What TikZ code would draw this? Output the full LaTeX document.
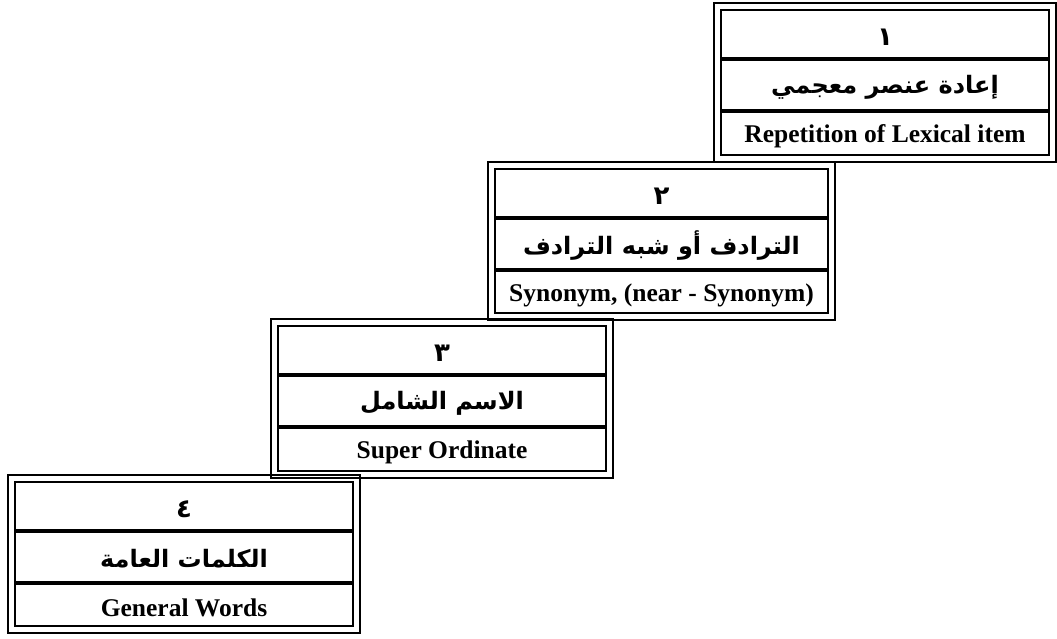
\documentclass[tikz,border=0pt]{standalone}
\usepackage{fontspec}
\setmainfont{Liberation Serif}
\newfontfamily\arabicfont[Script=Arabic]{DejaVu Sans}
\TeXXeTstate=1
\tikzset{
  boxframe/.style={draw=black, line width=1.3pt, inner sep=0pt, outer sep=0pt, anchor=north west},
  innerline/.style={draw=black, line width=1.3pt},
  sepline/.style={draw=black, line width=4pt},
  numtext/.style={font=\arabicfont\bfseries\fontsize{26}{30}\selectfont, inner sep=0pt},
  artext/.style={font=\arabicfont\bfseries\fontsize{24}{28}\selectfont, inner sep=0pt},
  entext/.style={font=\bfseries\fontsize{25.5}{28}\selectfont, inner sep=0pt}
}
% #1 name, #2 left, #3 top, #4 width, #5 height, #6 number, #7 arabic, #8 english
\newcommand\mkstepbox[8]{%
  \node[boxframe, minimum width=#4pt, minimum height=#5pt] (#1) at (#2,#3) {};
  \draw[innerline] ([shift={(7,7)}]#1.north west) rectangle ([shift={(-7,-7)}]#1.south east);
  \draw[sepline] ([shift={(7,56)}]#1.north west) -- ([shift={(-7,56)}]#1.north east);
  \draw[sepline] ([shift={(7,108)}]#1.north west) -- ([shift={(-7,108)}]#1.north east);
  \node[numtext] (#1n) at ([shift={(0,34)}]#1.north) {#6};
  \node[artext] (#1a) at ([shift={(0,84)}]#1.north) {#7};
  \node[entext] (#1e) at ([shift={(0,133)}]#1.north) {#8};
}
\begin{document}
\begin{tikzpicture}[x=1pt, y=-1pt]
  \useasboundingbox (0,0) rectangle (1057,638);
  \mkstepbox{b1}{714}{3}{342}{159}{\beginR ١\endR}{\beginR إعادة عنصر معجمي\endR}{Repetition of Lexical item}
  \mkstepbox{b2}{488}{162}{347}{158}{\beginR ٢\endR}{\beginR الترادف أو شبه الترادف\endR}{Synonym, (near - Synonym)}
  \mkstepbox{b3}{271}{319}{342}{159}{\beginR ٣\endR}{\beginR الاسم الشامل\endR}{Super Ordinate}
  \mkstepbox{b4}{8}{475}{352}{158}{\beginR ٤\endR}{\beginR الكلمات العامة\endR}{General Words}
\end{tikzpicture}
\end{document}
